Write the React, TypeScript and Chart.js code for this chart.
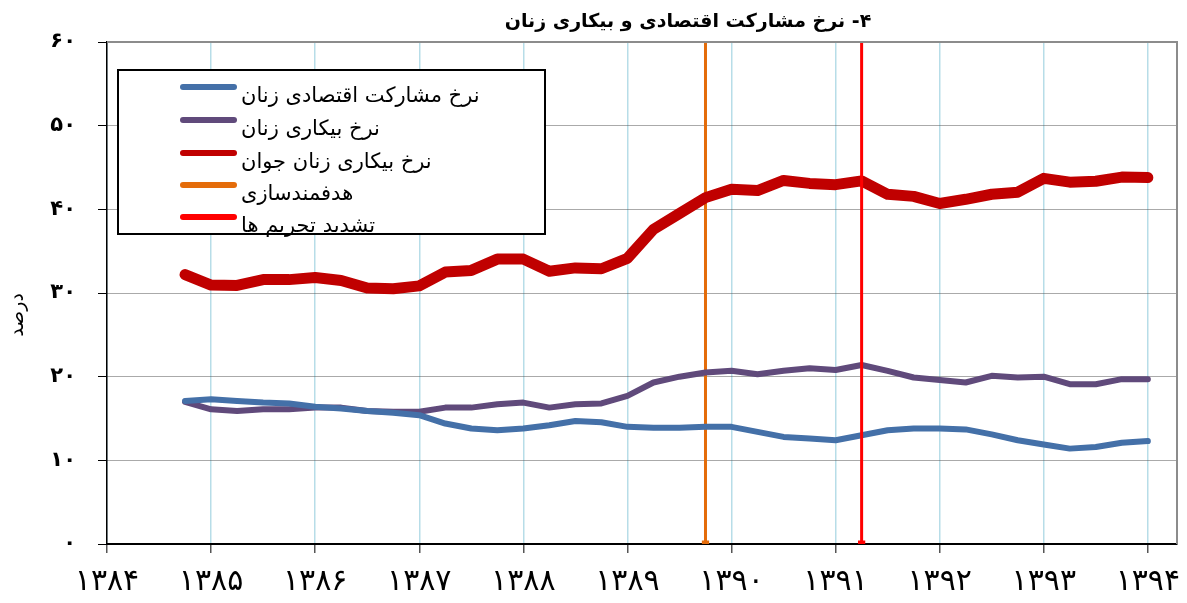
import React, { useEffect, useRef } from "react";
import { Chart, registerables } from "chart.js";

Chart.register(...registerables);

const quarters = [1384.75, 1385, 1385.25, 1385.5, 1385.75, 1386, 1386.25, 1386.5, 1386.75, 1387, 1387.25, 1387.5, 1387.75, 1388, 1388.25, 1388.5, 1388.75, 1389, 1389.25, 1389.5, 1389.75, 1390, 1390.25, 1390.5, 1390.75, 1391, 1391.25, 1391.5, 1391.75, 1392, 1392.25, 1392.5, 1392.75, 1393, 1393.25, 1393.5, 1393.75, 1394];

const participation = [17.1, 17.3, 17.1, 16.9, 16.8, 16.4, 16.2, 15.9, 15.7, 15.4, 14.4, 13.8, 13.6, 13.8, 14.2, 14.7, 14.55, 14.0, 13.9, 13.9, 14.0, 14.0, 13.4, 12.8, 12.6, 12.4, 13.0, 13.6, 13.8, 13.8, 13.7, 13.1, 12.4, 11.9, 11.4, 11.6, 12.1, 12.3];

const unemployment = [17.0, 16.1, 15.9, 16.1, 16.1, 16.3, 16.3, 15.9, 15.8, 15.8, 16.3, 16.3, 16.7, 16.9, 16.3, 16.7, 16.8, 17.7, 19.3, 20.0, 20.5, 20.7, 20.3, 20.7, 21.0, 20.8, 21.4, 20.7, 19.9, 19.6, 19.3, 20.1, 19.9, 20.0, 19.1, 19.1, 19.7, 19.7];

const youthUnemployment = [32.2, 30.95, 30.9, 31.6, 31.6, 31.85, 31.5, 30.6, 30.5, 30.85, 32.5, 32.7, 34.05, 34.05, 32.6, 33.0, 32.9, 34.15, 37.6, 39.5, 41.4, 42.4, 42.25, 43.45, 43.1, 42.95, 43.4, 41.8, 41.55, 40.7, 41.2, 41.8, 42.05, 43.7, 43.25, 43.35, 43.85, 43.8];

const subsidyReformX = 1389.75;
const sanctionsX = 1391.25;

const xTicks = [1384, 1385, 1386, 1387, 1388, 1389, 1390, 1391, 1392, 1393, 1394];
const xTickLabels = ["۱۳۸۴", "۱۳۸۵", "۱۳۸۶", "۱۳۸۷", "۱۳۸۸", "۱۳۸۹", "۱۳۹۰", "۱۳۹۱", "۱۳۹۲", "۱۳۹۳", "۱۳۹۴"];
const yTickLabels = ["۰", "۱۰", "۲۰", "۳۰", "۴۰", "۵۰", "۶۰"];

const seriesNames = [
  "نرخ مشارکت اقتصادی زنان",
  "نرخ بیکاری زنان",
  "نرخ بیکاری زنان جوان",
  "هدفمندسازی",
  "تشدید تحریم ها",
];
const titleText = "۴- نرخ مشارکت اقتصادی و بیکاری زنان";
const yAxisTitle = "درصد";

const FONT = "'DejaVu Sans', 'Noto Sans', sans-serif";

const decorPlugin = {
  id: "decor",
  afterDraw(chart: any) {
    const ctx = chart.ctx;
    const area = chart.chartArea;
    ctx.save();
    // top and right border
    ctx.strokeStyle = "#8c8c8c";
    ctx.lineWidth = 2;
    ctx.beginPath();
    ctx.moveTo(area.left, area.top);
    ctx.lineTo(area.right, area.top);
    ctx.lineTo(area.right, area.bottom);
    ctx.stroke();

    // title
    ctx.fillStyle = "#000";
    ctx.font = `bold 19px ${FONT}`;
    ctx.textAlign = "center";
    ctx.textBaseline = "middle";
    (ctx as any).direction = "rtl";
    ctx.fillText(titleText, 688, 22);

    // y title
    ctx.save();
    ctx.translate(18, 315);
    ctx.rotate(-Math.PI / 2);
    ctx.font = `19px ${FONT}`;
    ctx.fillText(yAxisTitle, 0, 0);
    ctx.restore();

    // legend box
    const bx = 118, by = 70, bw = 427, bh = 164;
    ctx.fillStyle = "#fff";
    ctx.fillRect(bx, by, bw, bh);
    ctx.strokeStyle = "#000";
    ctx.lineWidth = 2;
    ctx.strokeRect(bx, by, bw, bh);
    const rows = [87, 120, 153, 185, 217];
    chart.data.datasets.forEach((ds: any, i: number) => {
      const y = rows[i];
      ctx.strokeStyle = ds.borderColor;
      ctx.lineWidth = 6;
      ctx.lineCap = "round";
      ctx.beginPath();
      ctx.moveTo(183, y);
      ctx.lineTo(234, y);
      ctx.stroke();
      ctx.fillStyle = "#000";
      ctx.font = `21px ${FONT}`;
      ctx.textAlign = "left";
      ctx.textBaseline = "middle";
      (ctx as any).direction = "rtl";
      ctx.fillText(seriesNames[i], 241, y + 10);
    });
    ctx.restore();
  },
};

export default function App() {
  const ref = useRef<HTMLCanvasElement>(null);
  useEffect(() => {
    const toPts = (vals: number[]) => vals.map((v, i) => ({ x: quarters[i], y: v }));
    const chart = new Chart(ref.current as HTMLCanvasElement, {
      type: "line",
      data: {
        datasets: [
          {
            label: seriesNames[0],
            data: toPts(participation),
            borderColor: "#4470A8",
            borderWidth: 6,
            pointRadius: 0,
            borderCapStyle: "round",
            borderJoinStyle: "round",
            order: 1,
          },
          {
            label: seriesNames[1],
            data: toPts(unemployment),
            borderColor: "#604A7B",
            borderWidth: 6,
            pointRadius: 0,
            borderCapStyle: "round",
            borderJoinStyle: "round",
            order: 1,
          },
          {
            label: seriesNames[2],
            data: toPts(youthUnemployment),
            borderColor: "#C00000",
            borderWidth: 11,
            pointRadius: 0,
            borderCapStyle: "round",
            borderJoinStyle: "round",
            order: 1,
          },
          {
            label: seriesNames[3],
            data: [
              { x: subsidyReformX, y: 0 },
              { x: subsidyReformX, y: 60 },
            ],
            borderColor: "#E46C0A",
            backgroundColor: "#E46C0A",
            borderWidth: 3,
            pointRadius: [3, 0],
            pointStyle: "rect",
            order: 2,
          },
          {
            label: seriesNames[4],
            data: [
              { x: sanctionsX, y: 0 },
              { x: sanctionsX, y: 60 },
            ],
            borderColor: "#FF0000",
            backgroundColor: "#FF0000",
            borderWidth: 3,
            pointRadius: [3, 0],
            pointStyle: "rect",
            order: 0,
          },
        ],
      },
      options: {
        animation: false,
        responsive: false,
        devicePixelRatio: 1,
        layout: { padding: { top: 42, right: 10, left: 0, bottom: 0 } },
        plugins: { legend: { display: false }, tooltip: { enabled: false }, title: { display: false } },
        scales: {
          x: {
            type: "linear",
            min: 1384,
            max: 1394.28,
            afterBuildTicks: (scale: any) => {
              scale.ticks = xTicks.map((v) => ({ value: v }));
            },
            afterFit: (scale: any) => {
              scale.height = 59;
              scale.paddingLeft = 0;
              scale.paddingRight = 0;
            },
            ticks: {
              callback: (_v: any, i: number) => xTickLabels[i],
              font: { family: FONT, size: 30 },
              color: "#000",
              padding: 11,
              maxRotation: 0,
              autoSkip: false,
            },
            grid: { color: "#B7DDE8", lineWidth: 1.5, tickColor: "#555", tickLength: 9 },
            border: { color: "#000", width: 2 },
          },
          y: {
            min: 0,
            max: 60,
            afterFit: (scale: any) => {
              scale.width = 107;
              scale.paddingTop = 0;
              scale.paddingBottom = 0;
            },
            ticks: {
              stepSize: 10,
              callback: (_v: any, i: number) => yTickLabels[i],
              font: { family: FONT, size: 21, weight: "bold" },
              color: "#000",
              padding: 22,
            },
            grid: {
              color: (c: any) => (c.tick && (c.tick.value === 60 || c.tick.value === 0) ? "rgba(0,0,0,0)" : "#555"),
              lineWidth: 1,
              tickColor: "#000",
              tickLength: 9,
            },
            border: { color: "#000", width: 1.5, dash: [1, 1] },
          },
        },
      } as any,
      plugins: [decorPlugin],
    });
    return () => chart.destroy();
  }, []);
  return (
    <div style={{ position: "absolute", left: 0, top: 0, width: 1187, height: 603, background: "#fff" }}>
      <canvas ref={ref} width={1187} height={603} style={{ width: 1187, height: 603, display: "block" }} />
    </div>
  );
}
